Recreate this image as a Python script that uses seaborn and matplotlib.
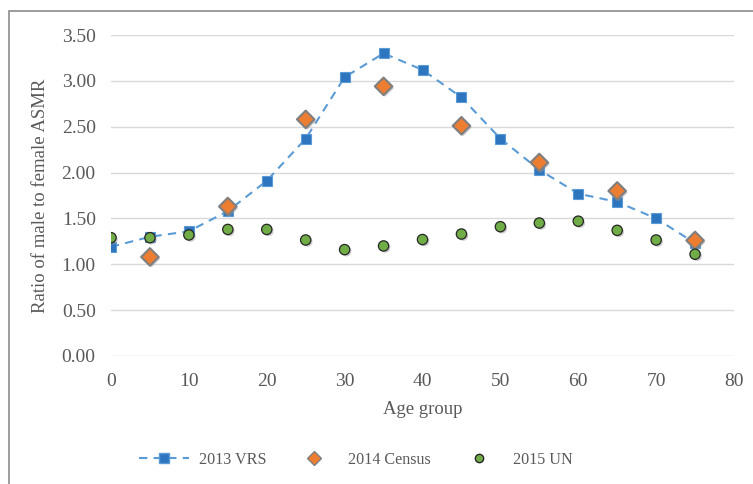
import numpy as np
import pandas as pd
import matplotlib
matplotlib.use('Agg')
import matplotlib.pyplot as plt
import matplotlib.patches as mpatches
import matplotlib.patheffects as pe
from matplotlib.lines import Line2D
import seaborn as sns

# Dados
idade_vrs = [0, 5, 10, 15, 20, 25, 30, 35, 40, 45, 50, 55, 60, 65, 70, 75]
razao_vrs = [1.19, 1.30, 1.36, 1.58, 1.91, 2.37, 3.04, 3.30, 3.12, 2.82,
             2.37, 2.03, 1.77, 1.68, 1.50, 1.23]

idade_censo = [5, 15, 25, 35, 45, 55, 65, 75]
razao_censo = [1.08, 1.63, 2.58, 2.94, 2.51, 2.11, 1.80, 1.26]

idade_un = [0, 5, 10, 15, 20, 25, 30, 35, 40, 45, 50, 55, 60, 65, 70, 75]
razao_un = [1.29, 1.29, 1.32, 1.38, 1.38, 1.265, 1.16, 1.20, 1.27, 1.33,
            1.41, 1.45, 1.47, 1.37, 1.265, 1.11]

y_ticks = [0.0, 0.5, 1.0, 1.5, 2.0, 2.5, 3.0, 3.5]
x_ticks = [0, 10, 20, 30, 40, 50, 60, 70, 80]

sns.set_style('white')
plt.rcParams['font.family'] = ['Liberation Serif', 'DejaVu Serif']

fig = plt.figure(figsize=(7.53, 4.84), dpi=100)
ax = fig.add_axes([111 / 753, 128 / 484, 623 / 753, 321 / 484])

sombra = [pe.SimplePatchShadow(offset=(1.2, -1.2), shadow_rgbFace='#999999', alpha=0.5), pe.Normal()]

df_vrs = pd.DataFrame({'idade': idade_vrs, 'razao': razao_vrs})
sns.lineplot(data=df_vrs, x='idade', y='razao', ax=ax, color='#5B9BD5',
             linestyle=(0, (4, 3)), linewidth=1.5, marker='s', markersize=7,
             markerfacecolor='#2E75C0', markeredgecolor='#5B9BD5',
             markeredgewidth=0.8, zorder=3)

df_censo = pd.DataFrame({'idade': idade_censo, 'razao': razao_censo})
sns.scatterplot(data=df_censo, x='idade', y='razao', ax=ax, marker='D', s=80,
                color='#ED7D31', edgecolor='#7F7F7F', linewidth=1.5, zorder=4)

df_un = pd.DataFrame({'idade': idade_un, 'razao': razao_un})
sns.scatterplot(data=df_un, x='idade', y='razao', ax=ax, marker='o', s=55,
                color='#70AD47', edgecolor='#262626', linewidth=0.9, zorder=5)

for col in ax.collections:
    col.set_path_effects(sombra)

ax.set_xlim(0, 80)
ax.set_ylim(0, 3.5)
ax.set_xticks(x_ticks)
ax.set_yticks(y_ticks)
ax.set_yticklabels([f'{v:.2f}' for v in y_ticks])
ax.yaxis.grid(True, color='#D9D9D9', linewidth=1)
ax.xaxis.grid(False)
ax.set_axisbelow(True)
for s in ax.spines.values():
    s.set_visible(False)
ax.tick_params(axis='both', length=0, labelsize=14, colors='#595959')
ax.tick_params(axis='y', pad=11)
ax.tick_params(axis='x', pad=12)
ax.set_xlabel('Age group', fontsize=13.5, color='#595959', labelpad=8)
ax.set_ylabel('Ratio of male to female ASMR', fontsize=13.5, color='#595959', labelpad=9)

# Legenda
handles = [
    Line2D([], [], color='#5B9BD5', linestyle=(0, (4, 3)), linewidth=1.5,
           marker='s', markersize=7, markerfacecolor='#2E75C0', markeredgecolor='#5B9BD5'),
    Line2D([], [], linestyle='none', marker='D', markersize=7,
           markerfacecolor='#ED7D31', markeredgecolor='#7F7F7F'),
    Line2D([], [], linestyle='none', marker='o', markersize=6,
           markerfacecolor='#70AD47', markeredgecolor='#262626'),
]
leg = fig.legend(handles, ['2013 VRS', '2014 Census', '2015 UN'], loc='center',
                 bbox_to_anchor=(356 / 753, 1 - 460 / 484), ncol=3, frameon=False,
                 fontsize=11.6, handlelength=3.1, columnspacing=1.4, handletextpad=0.6)
for t in leg.get_texts():
    t.set_color('#595959')

# Moldura externa
fig.patches.append(mpatches.Rectangle((9 / 753, -0.1), 1.2, (484 - 11) / 484 + 0.1,
                                      transform=fig.transFigure, fill=False,
                                      edgecolor='#8C8C8C', linewidth=1.2))

fig.savefig('out.png', dpi=100)
